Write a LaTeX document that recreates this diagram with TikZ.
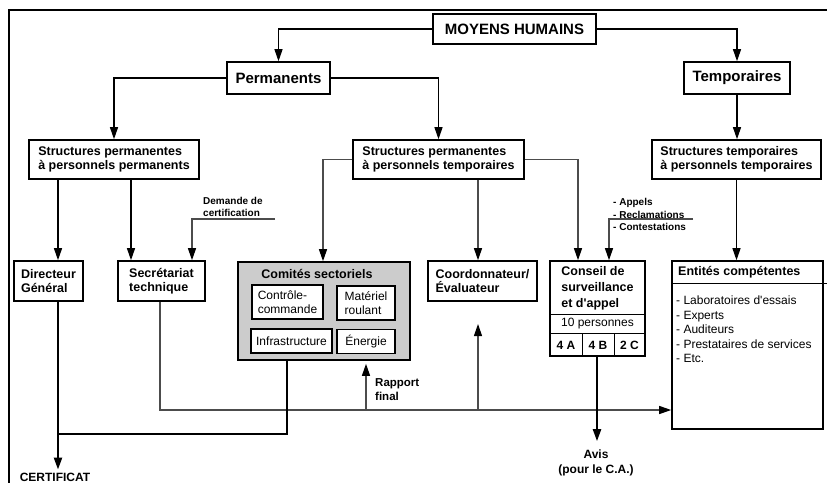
\documentclass[tikz,border=0pt]{standalone}
\usepackage{fontspec}
\setmainfont{Liberation Sans}
\usetikzlibrary{arrows.meta}
\begin{document}
\begin{tikzpicture}[x=1pt,y=-1pt,
  box/.style={draw=black,line width=1.6pt,fill=white,inner sep=0pt},
  hd/.style={font=\fontsize{15}{18}\selectfont\bfseries},
  bt/.style={font=\fontsize{12.5}{14.5}\selectfont\bfseries,align=left,inner sep=0pt},
  rt/.style={font=\fontsize{12}{14}\selectfont,align=left,inner sep=0pt},
  sm/.style={font=\fontsize{10}{12.5}\selectfont\bfseries,align=left,inner sep=0pt},
  link/.style={draw=black,line width=1.1pt},
  conn/.style={draw=black!70,line width=1.2pt},
  sep/.style={draw=black,line width=0.8pt},
  heavy/.style={draw=black,line width=2.2pt},
  tip/.style={-{Triangle[length=12pt,width=8pt,color=black]}},
]
\useasboundingbox (0,0) rectangle (827,483);

% outer frame (top and left edges)
\coordinate (f0) at (9,10);
\coordinate (f1) at (827,10);
\coordinate (f2) at (9,483);
\draw[line width=2pt] (f1) -- (f0) -- (f2);

% helper columns and rows
\coordinate (xa) at (58,0);
\coordinate (xb) at (131,0);
\coordinate (xd) at (192,0);
\coordinate (xsec) at (160,0);
\coordinate (xcb) at (287,0);
\coordinate (xc) at (323,0);
\coordinate (xr) at (366,0);
\coordinate (xo) at (478,0);
\coordinate (xs) at (578,0);
\coordinate (xv) at (597,0);
\coordinate (xp) at (609,0);
\coordinate (fr) at (827,0);
\coordinate (yb) at (0,410);
\coordinate (yj) at (0,434);
\coordinate (ytip) at (0,324);
\coordinate (dq) at (275,219);
\coordinate (aq) at (693,219);

% top levels
\node[box,hd,minimum width=163pt,minimum height=30pt] (moy) at (514.5,29) {MOYENS HUMAINS};
\node[box,hd,minimum width=103pt,minimum height=32pt] (perm) at (278.5,78) {Permanents};
\node[box,hd,minimum width=106pt,minimum height=32pt] (temp) at (737,78) {Temporaires};

% structures
\node[box,bt,minimum width=170pt,minimum height=39pt] (sppp) at (114,159.5) {Structures permanentes\\à personnels permanents};
\node[box,bt,minimum width=171pt,minimum height=39pt] (sppt) at (438.5,159.5) {Structures permanentes\\à personnels temporaires};
\node[box,bt,minimum width=169pt,minimum height=39pt] (sptt) at (736.5,159.5) {Structures temporaires\\à personnels temporaires};

% third level
\node[box,bt,minimum width=69pt,minimum height=40pt] (dg) at (48.5,281) {Directeur\\Général};
\node[box,bt,minimum width=87pt,minimum height=40pt] (sec) at (161.5,281) {Secrétariat\\technique};
\node[box,bt,minimum width=109pt,minimum height=40pt] (coord) at (482.5,281) {Coordonnateur/\\Évaluateur};

% sector committees
\node[box,fill=black!20,minimum width=172pt,minimum height=98pt] (com) at (324,311) {};
\node[bt] (comt) at (317,273.5) {Comités sectoriels};
\node[box,rt,minimum width=71pt,minimum height=34pt] (cc) at (287.5,302) {Contrôle-\\commande};
\node[box,rt,minimum width=58pt,minimum height=34pt] (mr) at (366,303) {Matériel\\roulant};
\node[box,rt,minimum width=81pt,minimum height=24pt] (inf) at (291.5,341) {Infrastructure};
\node[box,rt,minimum width=58pt,minimum height=24pt] (ene) at (366,341.5) {Énergie};

% supervisory and appeal board
\node[box,minimum width=95pt,minimum height=95pt] (con) at (597.5,308.5) {};
\node[bt,font=\fontsize{12.5}{16}\selectfont\bfseries] (cont) at (597.5,288) {Conseil de\\surveillance\\et d\textquotesingle appel};
\coordinate (r1) at (0,314);
\coordinate (r2) at (0,333);
\coordinate (k1) at (582,0);
\coordinate (k2) at (614,0);
\draw[sep] (con.west |- r1) -- (con.east |- r1);
\draw[sep] (con.west |- r2) -- (con.east |- r2);
\draw[sep] (k1 |- r2) -- (k1 |- con.south);
\draw[sep] (k2 |- r2) -- (k2 |- con.south);
\node[rt] (pers) at (597.5,323.5) {10 personnes};
\node[bt,font=\fontsize{12}{14}\selectfont\bfseries] (ga) at (566,345) {4 A};
\node[bt,font=\fontsize{12}{14}\selectfont\bfseries] (gb) at (598,345) {4 B};
\node[bt,font=\fontsize{12}{14}\selectfont\bfseries] (gc) at (629.5,345) {2 C};

% competent bodies
\node[box,minimum width=151pt,minimum height=168pt] (ent) at (747.5,345) {};
\coordinate (r3) at (0,283);
\draw[sep] (ent.west |- r3) -- (fr |- r3);
\node[bt,anchor=west] (entt) at (678,272.5) {Entités compétentes};
\node[rt,anchor=north west,font=\fontsize{12}{14.5}\selectfont] (entl) at (676,296) {- Laboratoires d\textquotesingle essais\\- Experts\\- Auditeurs\\- Prestataires de services\\- Etc.};

% free labels
\node[sm,anchor=west] (dem) at (203,207) {Demande de\\certification};
\node[sm,anchor=west] (app) at (613,214.5) {- Appels\\- Reclamations\\- Contestations};
\node[bt,anchor=west,font=\fontsize{11.5}{14}\selectfont\bfseries] (rap) at (375,390) {Rapport\\final};
\node[bt,font=\fontsize{12}{14}\selectfont\bfseries] (cert) at (55,477) {CERTIFICAT};
\node[bt,align=center,font=\fontsize{12}{15}\selectfont\bfseries] (avis) at (596,462.5) {Avis\\(pour le C.A.)};

% hierarchy
\draw[link,tip] (moy.west) -| (perm.north);
\draw[link,tip] (moy.east) -| (temp.north);
\draw[link,tip] (perm.west) -| (sppp.north);
\draw[link,tip] (perm.east) -| (sppt.north);
\draw[link,tip] (temp.south) -- (temp.south |- sptt.north);
\draw[link,tip] (sppp.south -| xa) -- (dg.north -| xa);
\draw[link,tip] (sppp.south -| xb) -- (sec.north -| xb);
\draw[conn,tip] (dq) -| (sec.north -| xd);
\draw[conn,tip] (sppt.west) -| (com.north -| xc);
\draw[conn,tip] (sppt.south -| xo) -- (coord.north -| xo);
\draw[conn,tip] (sppt.east) -| (con.north -| xs);
\draw[conn,tip] (aq) -| (con.north -| xp);
\draw[link,tip] (sptt.south) -- (ent.north -| sptt.south);

% flows
\draw[conn,tip] (sec.south -| xsec) |- (ent.west |- yb);
\draw[conn,tip] (yb -| xo) -- (ytip -| xo);
\draw[conn,tip,shorten >=3pt] (yb -| xr) -- (com.south -| xr);
\draw[heavy] (com.south -| xcb) |- (yj -| xa);
\draw[heavy,tip,shorten >=3pt] (dg.south -| xa) -- (cert.north -| xa);
\draw[heavy,tip,shorten >=8pt] (con.south -| xv) -- (avis.north -| xv);
\end{tikzpicture}
\end{document}
